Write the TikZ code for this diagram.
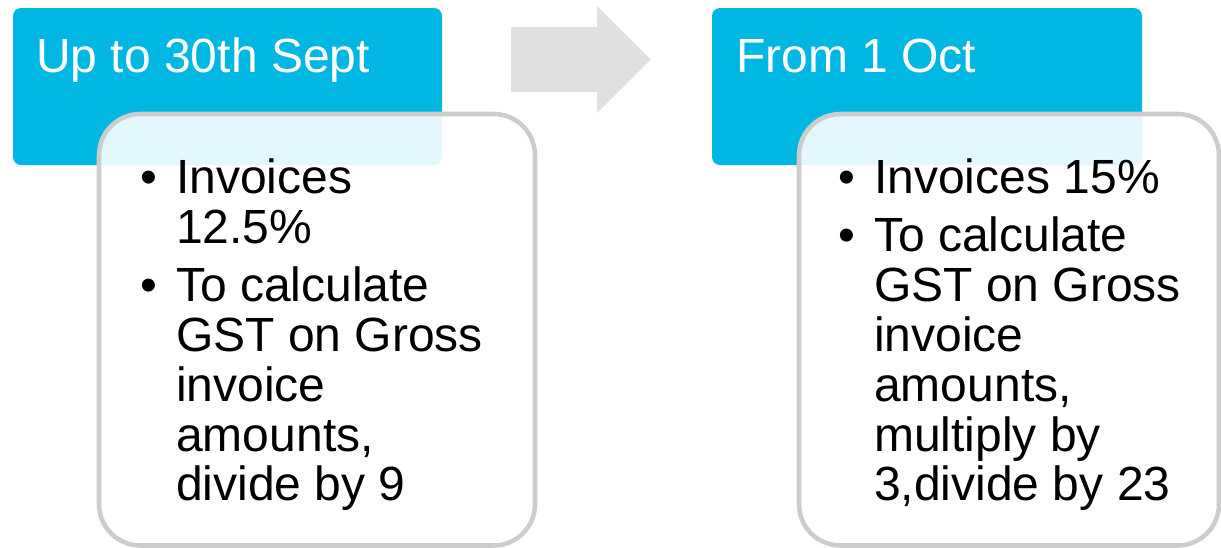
\documentclass[tikz,border=0pt]{standalone}
\usepackage{fontspec}
\setmainfont{Liberation Sans}
\definecolor{hdrblue}{RGB}{0,183,228}
\definecolor{boxgray}{RGB}{204,204,204}
\definecolor{arrowgray}{RGB}{224,224,224}
\begin{document}
\begin{tikzpicture}[x=0.75pt,y=-0.75pt,
  hdr/.style={fill=hdrblue, rounded corners=6pt},
  card/.style={draw=boxgray, line width=3.4pt, fill=white, fill opacity=0.89, rounded corners=31pt},
  title/.style={anchor=base west, inner sep=0pt, text=white, font=\fontsize{36}{43}\selectfont},
  txt/.style={anchor=base west, inner sep=0pt, text=black, font=\fontsize{36}{43}\selectfont},
]
\useasboundingbox (0,0) rectangle (1221,547);
% header boxes
\fill[hdr] (13,8) rectangle (442,165);
\fill[hdr] (712,8) rectangle (1142,165);
% arrow
\fill[arrowgray] (511,27) -- (597,27) -- (597,6) -- (651,59.5) -- (597,113) -- (597,92) -- (511,92) -- cycle;
% cards
\path[card] (99,114) rectangle (535,545.5);
\path[card] (799,114) rectangle (1219,545.5);
% titles
\node[title] (t1) at (36,72.5) {Up to 30th Sept};
\node[title] (t2) at (736,72.5) {From 1 Oct};
% left list
\node[txt] (lb1) at (140,193) {•};
\node[txt] (la1) at (176,193) {Invoices};
\node[txt] (la2) at (176,243) {12.5\%};
\node[txt] (lb2) at (140,301) {•};
\node[txt] (la3) at (176,301) {To calculate};
\node[txt] (la4) at (176,351) {GST on Gross};
\node[txt] (la5) at (176,401) {invoice};
\node[txt] (la6) at (176,451) {amounts,};
\node[txt] (la7) at (176,500) {divide by 9};
% right list
\node[txt] (rb1) at (838,193) {•};
\node[txt] (ra1) at (874,193) {Invoices 15\%};
\node[txt] (rb2) at (838,251) {•};
\node[txt] (ra2) at (874,251) {To calculate};
\node[txt] (ra3) at (874,301) {GST on Gross};
\node[txt] (ra4) at (874,351) {invoice};
\node[txt] (ra5) at (874,401) {amounts,};
\node[txt] (ra6) at (874,451) {multiply by};
\node[txt] (ra7) at (874,500) {3,divide by 23};
\end{tikzpicture}
\end{document}
